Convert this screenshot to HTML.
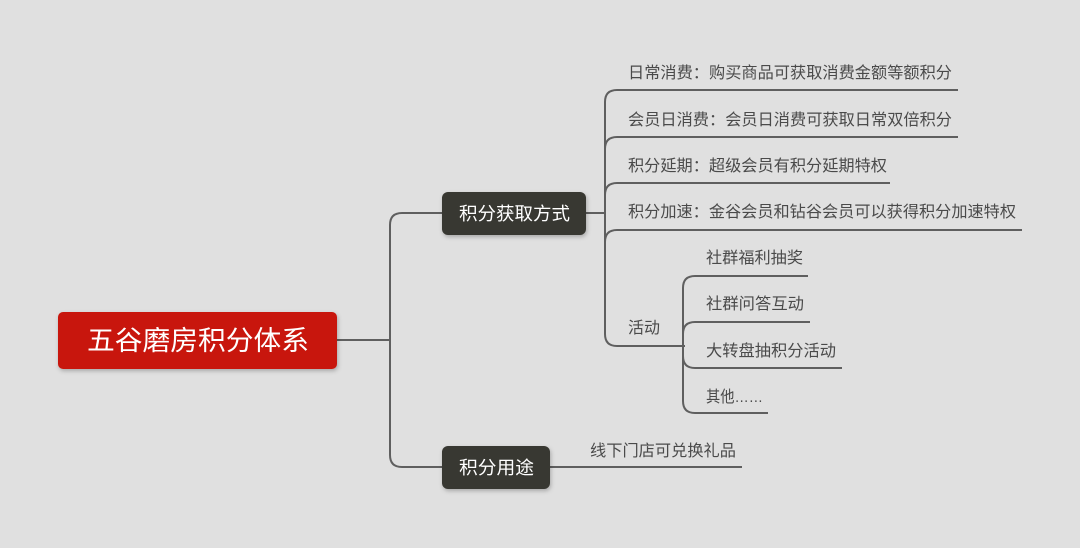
<!DOCTYPE html>
<html><head><meta charset="utf-8"><style>
body{margin:0;background:#e0e0e0;}
svg{display:block}
text{font-family:"Liberation Sans","Noto Sans CJK SC",sans-serif;}
.l{font-size:16px;fill:#4a4a4a}
</style></head><body>
<svg width="1080" height="548" viewBox="0 0 1080 548">
<defs><filter id="s" x="-10%" y="-10%" width="130%" height="140%"><feDropShadow dx="1" dy="2" stdDeviation="2" flood-opacity="0.25"/></filter></defs>
<g fill="none" stroke="#5f5f5f" stroke-width="2">
<path d="M337 340 H390"/>
<path d="M442 213 H402 Q390 213 390 225 V455 Q390 467 402 467 H442"/>
<path d="M586 213 H605"/>
<path d="M958 90 H617 Q605 90 605 102 V334 Q605 346 617 346 H685"/>
<path d="M958 137 H617 Q605 137 605 149"/>
<path d="M890 183 H617 Q605 183 605 195"/>
<path d="M1022 230 H617 Q605 230 605 242"/>
<path d="M808 276 H695 Q683 276 683 288 V401 Q683 413 695 413 H768"/>
<path d="M810 322 H695 Q683 322 683 334"/>
<path d="M842 368 H695 Q683 368 683 356"/>
<path d="M550 467 H742"/>
</g>
<rect x="58" y="312" width="279" height="57" rx="5" fill="#c8160c" filter="url(#s)"/>
<text x="87" y="350" font-size="27" fill="#fff" textLength="222" lengthAdjust="spacingAndGlyphs">五谷磨房积分体系</text>
<rect x="442" y="192" width="144" height="43" rx="6" fill="#383832" filter="url(#s)"/>
<text x="459" y="220" font-size="18" fill="#fff" textLength="111" lengthAdjust="spacingAndGlyphs">积分获取方式</text>
<rect x="442" y="446" width="108" height="43" rx="6" fill="#383832" filter="url(#s)"/>
<text x="459" y="474" font-size="18" fill="#fff" textLength="75" lengthAdjust="spacingAndGlyphs">积分用途</text>
<text class="l" x="628" y="78" textLength="324" lengthAdjust="spacingAndGlyphs">日常消费：购买商品可获取消费金额等额积分</text>
<text class="l" x="628" y="125" textLength="324" lengthAdjust="spacingAndGlyphs">会员日消费：会员日消费可获取日常双倍积分</text>
<text class="l" x="628" y="171" textLength="259" lengthAdjust="spacingAndGlyphs">积分延期：超级会员有积分延期特权</text>
<text class="l" x="628" y="217" textLength="388" lengthAdjust="spacingAndGlyphs">积分加速：金谷会员和钻谷会员可以获得积分加速特权</text>
<text class="l" x="628" y="333" textLength="32" lengthAdjust="spacingAndGlyphs">活动</text>
<text class="l" x="706" y="263" textLength="97" lengthAdjust="spacingAndGlyphs">社群福利抽奖</text>
<text class="l" x="706" y="309" textLength="98" lengthAdjust="spacingAndGlyphs">社群问答互动</text>
<text class="l" x="706" y="356" textLength="130" lengthAdjust="spacingAndGlyphs">大转盘抽积分活动</text>
<text class="l" x="706" y="402" textLength="57" lengthAdjust="spacingAndGlyphs">其他……</text>
<text class="l" x="590" y="456" textLength="146" lengthAdjust="spacingAndGlyphs">线下门店可兑换礼品</text>
</svg>
</body></html>
